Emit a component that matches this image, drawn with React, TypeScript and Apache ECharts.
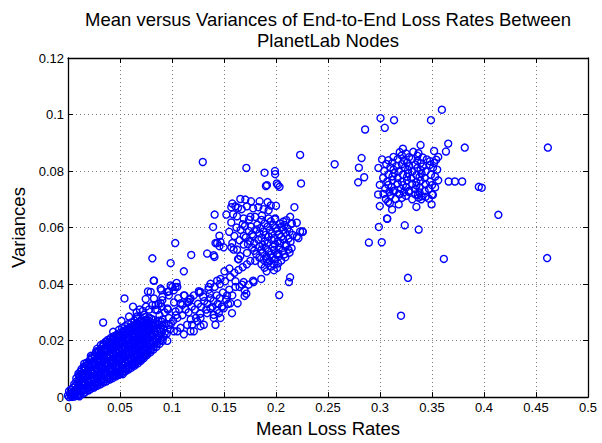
import React, { useEffect, useRef } from "react";
import * as echarts from "echarts";

const titleLines = ["Mean versus Variances of End-to-End Loss Rates Between", "PlanetLab Nodes"];
const xName = "Mean Loss Rates";
const yName = "Variances";
const xRange = { min: 0, max: 0.5, interval: 0.05 };
const yRange = { min: 0, max: 0.12, interval: 0.02 };

// dense blob of pairs near the origin [mean, variance]
const originBlob: [number, number][] = [
  [0.001,0.0000],[0.002,0.0011],[0.001,0.0021],[0.000,0.0006],
  [0.003,0.0004],[0.004,0.0015],[0.003,0.0027],[0.004,0.0001],
  [0.005,0.0008],[0.006,0.0019],[0.005,0.0033],[0.006,0.0046],[0.006,0.0002],
  [0.007,0.0011],[0.008,0.0024],[0.007,0.0040],[0.008,0.0055],[0.008,0.0067],[0.009,0.0005],
  [0.010,0.0016],[0.009,0.0031],[0.010,0.0044],[0.010,0.0058],[0.011,0.0072],[0.010,0.0083],[0.011,0.0003],
  [0.012,0.0009],[0.013,0.0022],[0.012,0.0036],[0.013,0.0049],[0.012,0.0063],[0.013,0.0077],[0.012,0.0090],[0.013,0.0099],
  [0.015,0.0013],[0.014,0.0027],[0.015,0.0040],[0.015,0.0054],[0.014,0.0068],[0.015,0.0081],[0.016,0.0094],[0.015,0.0107],
  [0.017,0.0019],[0.018,0.0032],[0.017,0.0046],[0.018,0.0059],[0.017,0.0072],[0.018,0.0086],[0.017,0.0100],[0.018,0.0113],[0.018,0.0122],
  [0.020,0.0024],[0.019,0.0038],[0.020,0.0051],[0.021,0.0064],[0.020,0.0078],[0.019,0.0091],[0.021,0.0104],[0.020,0.0118],[0.021,0.0131],
  [0.022,0.0029],[0.023,0.0043],[0.022,0.0056],[0.023,0.0070],[0.024,0.0083],[0.022,0.0096],[0.023,0.0110],[0.024,0.0123],[0.023,0.0137],[0.022,0.0146],
  [0.025,0.0034],[0.026,0.0048],[0.025,0.0062],[0.026,0.0075],[0.025,0.0089],[0.027,0.0102],[0.026,0.0115],[0.025,0.0129],[0.026,0.0142],[0.027,0.0156],
  [0.028,0.0040],[0.029,0.0053],[0.028,0.0067],[0.029,0.0080],[0.028,0.0094],[0.030,0.0107],[0.029,0.0121],[0.028,0.0134],[0.030,0.0148],[0.029,0.0161],[0.028,0.0171],
  [0.031,0.0045],[0.032,0.0059],[0.031,0.0072],[0.032,0.0086],[0.033,0.0099],[0.031,0.0113],[0.032,0.0126],[0.033,0.0140],[0.031,0.0153],[0.032,0.0167],[0.033,0.0179],
  [0.034,0.0051],[0.035,0.0064],[0.034,0.0078],[0.035,0.0091],[0.034,0.0105],[0.036,0.0118],[0.035,0.0132],[0.034,0.0145],[0.036,0.0159],[0.035,0.0172],[0.034,0.0186],[0.036,0.0195],
  [0.037,0.0056],[0.038,0.0070],[0.037,0.0083],[0.039,0.0097],[0.038,0.0110],[0.037,0.0124],[0.038,0.0137],[0.039,0.0151],[0.037,0.0164],[0.038,0.0178],[0.039,0.0191],[0.038,0.0202],
  [0.040,0.0062],[0.041,0.0075],[0.040,0.0089],[0.041,0.0102],[0.042,0.0116],[0.040,0.0129],[0.041,0.0143],[0.042,0.0156],[0.041,0.0170],[0.040,0.0183],[0.042,0.0197],[0.041,0.0209],
  [0.043,0.0067],[0.044,0.0081],[0.043,0.0094],[0.045,0.0108],[0.044,0.0121],[0.043,0.0135],[0.044,0.0148],[0.045,0.0162],[0.043,0.0175],[0.044,0.0189],[0.045,0.0202],[0.044,0.0215],
  [0.046,0.0073],[0.047,0.0086],[0.046,0.0100],[0.047,0.0113],[0.048,0.0127],[0.046,0.0140],[0.047,0.0154],[0.048,0.0167],[0.047,0.0181],[0.046,0.0194],[0.048,0.0208],[0.047,0.0221],
  [0.049,0.0079],[0.050,0.0092],[0.049,0.0105],[0.051,0.0119],[0.050,0.0132],[0.049,0.0146],[0.050,0.0159],[0.051,0.0173],[0.049,0.0186],[0.050,0.0200],[0.051,0.0213],[0.050,0.0227],[0.049,0.0238],
  [0.052,0.0085],[0.053,0.0098],[0.052,0.0112],[0.054,0.0125],[0.053,0.0139],[0.052,0.0152],[0.053,0.0166],[0.054,0.0179],[0.052,0.0193],[0.053,0.0206],[0.054,0.0220],[0.053,0.0233],[0.052,0.0244],
  [0.055,0.0091],[0.056,0.0104],[0.055,0.0118],[0.057,0.0131],[0.056,0.0145],[0.055,0.0158],[0.056,0.0172],[0.057,0.0185],[0.055,0.0199],[0.056,0.0212],[0.057,0.0226],[0.056,0.0239],[0.055,0.0251],
  [0.058,0.0097],[0.059,0.0111],[0.058,0.0124],[0.060,0.0138],[0.059,0.0151],[0.058,0.0165],[0.059,0.0178],[0.060,0.0192],[0.058,0.0205],[0.059,0.0219],[0.060,0.0232],[0.059,0.0246],[0.058,0.0258],
  [0.061,0.0104],[0.062,0.0117],[0.061,0.0131],[0.063,0.0144],[0.062,0.0158],[0.061,0.0171],[0.062,0.0185],[0.063,0.0198],[0.061,0.0212],[0.062,0.0225],[0.063,0.0239],[0.062,0.0252],[0.061,0.0264],
  [0.064,0.0111],[0.065,0.0124],[0.064,0.0138],[0.066,0.0151],[0.065,0.0165],[0.064,0.0178],[0.065,0.0192],[0.066,0.0205],[0.064,0.0219],[0.065,0.0232],[0.066,0.0246],[0.065,0.0259],[0.064,0.0271],
  [0.067,0.0119],[0.068,0.0132],[0.067,0.0146],[0.069,0.0159],[0.068,0.0173],[0.067,0.0186],[0.068,0.0200],[0.069,0.0213],[0.067,0.0227],[0.068,0.0240],[0.069,0.0254],[0.068,0.0267],[0.067,0.0279],
  [0.070,0.0128],[0.071,0.0141],[0.070,0.0155],[0.072,0.0168],[0.071,0.0182],[0.070,0.0195],[0.071,0.0209],[0.072,0.0222],[0.070,0.0236],[0.071,0.0249],[0.072,0.0263],[0.071,0.0276],
  [0.073,0.0138],[0.074,0.0151],[0.073,0.0165],[0.075,0.0178],[0.074,0.0192],[0.073,0.0205],[0.074,0.0219],[0.075,0.0232],[0.073,0.0246],[0.074,0.0259],[0.075,0.0273],[0.074,0.0283],
  [0.076,0.0149],[0.077,0.0162],[0.076,0.0176],[0.078,0.0189],[0.077,0.0203],[0.076,0.0216],[0.077,0.0230],[0.078,0.0243],[0.076,0.0257],[0.077,0.0270],[0.078,0.0281],
  [0.079,0.0158],[0.080,0.0171],[0.079,0.0185],[0.081,0.0198],[0.080,0.0212],[0.079,0.0225],[0.080,0.0239],[0.081,0.0252],[0.079,0.0266],[0.080,0.0277],
  [0.082,0.0168],[0.083,0.0181],[0.082,0.0195],[0.084,0.0208],[0.083,0.0222],[0.082,0.0235],[0.083,0.0249],[0.084,0.0262],[0.082,0.0274],
  [0.085,0.0178],[0.086,0.0191],[0.085,0.0205],[0.087,0.0218],[0.086,0.0232],[0.085,0.0245],[0.086,0.0259],[0.087,0.0270],
  [0.088,0.0188],[0.089,0.0202],[0.088,0.0215],[0.090,0.0229],[0.089,0.0242],[0.088,0.0256],[0.090,0.0267],
  [0.091,0.0199],[0.092,0.0213],[0.093,0.0227],[0.092,0.0241],[0.091,0.0255],
];

// extra pairs filling the solid core of the blob
const blobCore: [number, number][] = [
  [0.0105,0.0023],[0.0108,0.0051],[0.0103,0.0076],
  [0.0135,0.0030],[0.0138,0.0055],[0.0133,0.0084],
  [0.0166,0.0026],[0.0163,0.0053],[0.0168,0.0078],[0.0164,0.0106],
  [0.0196,0.0031],[0.0193,0.0059],[0.0198,0.0084],[0.0195,0.0112],
  [0.0226,0.0037],[0.0223,0.0062],[0.0228,0.0091],[0.0224,0.0116],[0.0227,0.0141],
  [0.0256,0.0041],[0.0253,0.0069],[0.0258,0.0094],[0.0254,0.0123],[0.0257,0.0148],
  [0.0286,0.0047],[0.0283,0.0073],[0.0288,0.0102],[0.0284,0.0127],[0.0287,0.0156],
  [0.0316,0.0053],[0.0313,0.0079],[0.0318,0.0105],[0.0314,0.0134],[0.0317,0.0160],[0.0315,0.0184],
  [0.0346,0.0057],[0.0343,0.0086],[0.0348,0.0111],[0.0344,0.0139],[0.0347,0.0167],[0.0345,0.0189],
  [0.0376,0.0064],[0.0373,0.0090],[0.0378,0.0118],[0.0374,0.0143],[0.0377,0.0172],[0.0375,0.0196],
  [0.0406,0.0068],[0.0403,0.0097],[0.0408,0.0122],[0.0404,0.0151],[0.0407,0.0176],[0.0405,0.0204],
  [0.0436,0.0075],[0.0433,0.0100],[0.0438,0.0129],[0.0434,0.0154],[0.0437,0.0183],[0.0435,0.0207],
  [0.0466,0.0079],[0.0463,0.0108],[0.0468,0.0133],[0.0464,0.0162],[0.0467,0.0187],[0.0465,0.0215],
  [0.0496,0.0087],[0.0493,0.0112],[0.0498,0.0141],[0.0494,0.0166],[0.0497,0.0195],[0.0495,0.0219],
  [0.0526,0.0091],[0.0523,0.0120],[0.0528,0.0145],[0.0524,0.0174],[0.0527,0.0199],[0.0525,0.0228],
  [0.0556,0.0099],[0.0553,0.0124],[0.0558,0.0153],[0.0554,0.0178],[0.0557,0.0207],[0.0555,0.0232],
  [0.0586,0.0103],[0.0583,0.0132],[0.0588,0.0157],[0.0584,0.0186],[0.0587,0.0211],[0.0585,0.0240],
  [0.0616,0.0112],[0.0613,0.0137],[0.0618,0.0166],[0.0614,0.0191],[0.0617,0.0220],[0.0615,0.0244],
  [0.0646,0.0117],[0.0643,0.0146],[0.0648,0.0171],[0.0644,0.0200],[0.0647,0.0225],[0.0645,0.0253],
  [0.0676,0.0127],[0.0673,0.0152],[0.0678,0.0181],[0.0674,0.0206],[0.0677,0.0235],[0.0675,0.0259],
  [0.0706,0.0134],[0.0703,0.0163],[0.0708,0.0188],[0.0704,0.0217],[0.0707,0.0242],[0.0705,0.0269],
  [0.0736,0.0146],[0.0733,0.0171],[0.0738,0.0200],[0.0734,0.0225],[0.0737,0.0254],
  [0.0766,0.0155],[0.0763,0.0184],[0.0768,0.0209],[0.0764,0.0238],[0.0767,0.0262],
  [0.0796,0.0166],[0.0793,0.0191],[0.0798,0.0220],[0.0794,0.0245],
];

// the band that climbs from the blob toward the middle cluster
const lossBand: [number, number][] = [
  [0.0338,0.0264],[0.0271,0.0162],[0.0156,0.0118],[0.0434,0.0231],[0.0514,0.0270],[0.0587,0.0285],[0.0661,0.0285],[0.0731,0.0291],
  [0.0527,0.0081],[0.0675,0.0134],[0.0955,0.0199],
  [0.0543,0.0349],[0.0625,0.0320],[0.0747,0.0347],[0.0795,0.0372],[0.0891,0.0384],[0.0827,0.0349],[0.0907,0.0355],[0.0955,0.0372],
  [0.1018,0.0378],[0.1034,0.0390],[0.0987,0.0395],[0.0891,0.0332],[0.0955,0.0314],[0.1034,0.0303],[0.1051,0.0280],[0.1099,0.0326],
  [0.1146,0.0337],[0.1082,0.0245],[0.1146,0.0256],[0.1194,0.0256],[0.1242,0.0268],[0.1274,0.0280],[0.1338,0.0297],[0.1370,0.0314],
  [0.1401,0.0291],[0.1450,0.0297],[0.1306,0.0256],[0.1210,0.0233],[0.1114,0.0222],[0.1051,0.0233],
  [0.0824,0.0412],[0.0897,0.0378],[0.0970,0.0374],[0.1044,0.0404],[0.0769,0.0374],
  [0.066,0.030],[0.069,0.031],[0.072,0.0305],[0.075,0.032],[0.078,0.031],[0.081,0.0325],[0.084,0.031],[0.087,0.033],[0.090,0.032],
  [0.093,0.030],[0.096,0.031],[0.088,0.029],[0.091,0.0275],[0.094,0.026],[0.097,0.028],[0.099,0.026],[0.095,0.0225],[0.098,0.024],
  [0.101,0.027],[0.104,0.029],[0.107,0.031],[0.110,0.029],[0.113,0.031],[0.116,0.030],[0.119,0.032],[0.122,0.031],[0.125,0.033],
  [0.128,0.032],[0.131,0.034],[0.134,0.033],[0.137,0.035],[0.140,0.034],[0.143,0.036],[0.146,0.035],[0.149,0.037],[0.152,0.0345],
  [0.155,0.038],[0.158,0.036],[0.161,0.039],[0.118,0.0275],[0.123,0.028],[0.127,0.0295],[0.133,0.031],[0.139,0.032],[0.144,0.033],
  [0.148,0.032],[0.154,0.033],[0.102,0.0335],[0.106,0.035],[0.112,0.036],[0.117,0.0345],[0.121,0.036],[0.126,0.037],[0.130,0.0355],
  [0.135,0.038],[0.141,0.039],[0.146,0.040],[0.151,0.041],[0.156,0.0425],[0.160,0.044],[0.164,0.045],[0.168,0.046],[0.172,0.047],
  [0.1466,0.0418],[0.1434,0.0412],[0.1370,0.0401],[0.1353,0.0390],[0.1363,0.0366],[0.1274,0.0372],[0.1258,0.0375],[0.1178,0.0349],
  [0.1162,0.0337],[0.1082,0.0332],[0.1114,0.0360],[0.1051,0.0390],[0.1003,0.0390],[0.0970,0.0360],[0.0907,0.0343],[0.0843,0.0326],[0.0859,0.0308],
  [0.1530,0.0360],[0.1561,0.0332],[0.1497,0.0314],[0.1434,0.0308],[0.1401,0.0280],[0.1418,0.0256],[0.1482,0.0320],[0.1631,0.0332],
  [0.1577,0.0297],[0.1466,0.0280],[0.1274,0.0251],[0.1178,0.0233],[0.1018,0.0233],[0.0970,0.0256],
  [0.1858,0.0418],[0.1785,0.0407],[0.1737,0.0398],[0.1689,0.0407],[0.1673,0.0398],[0.1650,0.0390],[0.1698,0.0378],[0.1715,0.0366],
  [0.1698,0.0358],[0.2136,0.0424],[0.2124,0.0407],[0.2031,0.0361],[0.1610,0.0410],[0.1780,0.0412],[0.1552,0.0455],[0.1504,0.0445],
  [0.1031,0.0545],[0.1185,0.0503],[0.0811,0.0491],[0.0987,0.0474],[0.1114,0.0445],[0.0827,0.0412],
];

// the middle cluster around (0.19, 0.055)
const midCluster: [number, number][] = [
  [0.186,0.0627],[0.195,0.0622],[0.199,0.0629],[0.207,0.0621],[0.210,0.0626],
  [0.182,0.0610],[0.189,0.0615],[0.197,0.0608],[0.204,0.0614],[0.208,0.0609],[0.215,0.0613],
  [0.176,0.0603],[0.185,0.0598],[0.192,0.0604],[0.200,0.0599],[0.205,0.0602],[0.211,0.0597],
  [0.174,0.0588],[0.181,0.0593],[0.188,0.0586],[0.194,0.0591],[0.201,0.0587],[0.207,0.0592],[0.213,0.0585],
  [0.177,0.0576],[0.184,0.0580],[0.190,0.0574],[0.196,0.0579],[0.203,0.0575],[0.209,0.0581],[0.216,0.0574],
  [0.171,0.0565],[0.178,0.0569],[0.186,0.0563],[0.193,0.0568],[0.198,0.0562],[0.205,0.0567],[0.212,0.0561],
  [0.175,0.0553],[0.183,0.0557],[0.189,0.0551],[0.196,0.0556],[0.202,0.0552],[0.207,0.0558],[0.214,0.0550],
  [0.173,0.0541],[0.179,0.0545],[0.187,0.0539],[0.192,0.0544],[0.199,0.0540],[0.204,0.0546],[0.210,0.0539],
  [0.177,0.0529],[0.184,0.0533],[0.190,0.0527],[0.197,0.0532],[0.203,0.0528],[0.209,0.0534],[0.215,0.0527],
  [0.179,0.0518],[0.186,0.0522],[0.193,0.0516],[0.198,0.0521],[0.206,0.0517],[0.212,0.0522],
  [0.181,0.0506],[0.187,0.0510],[0.195,0.0504],[0.202,0.0509],[0.208,0.0505],[0.213,0.0511],
  [0.184,0.0494],[0.191,0.0498],[0.196,0.0493],[0.203,0.0499],[0.209,0.0495],
  [0.180,0.0482],[0.188,0.0486],[0.194,0.0481],[0.199,0.0487],[0.205,0.0483],
  [0.186,0.0470],[0.192,0.0474],[0.198,0.0469],[0.202,0.0473],
  [0.189,0.0458],[0.195,0.0462],[0.201,0.0457],[0.191,0.0445],[0.198,0.0449],
  [0.158,0.0685],[0.167,0.0665],[0.172,0.0675],[0.178,0.0668],[0.183,0.0672],[0.188,0.0665],[0.195,0.0678],[0.168,0.0612],
  [0.174,0.0628],[0.157,0.0618],[0.162,0.0600],[0.166,0.0592],[0.170,0.0605],[0.155,0.0585],[0.160,0.0570],[0.165,0.0555],
  [0.169,0.0540],[0.158,0.0545],
  [0.1410,0.0646],[0.1395,0.0602],[0.1456,0.0571],[0.1338,0.0508],[0.1401,0.0502],[0.1408,0.0496],[0.1418,0.0545],[0.1456,0.0534],
  [0.1497,0.0530],[0.1434,0.0545],[0.1466,0.0549],[0.1571,0.0530],[0.1593,0.0522],[0.1641,0.0488],[0.1690,0.0570],[0.1626,0.0522],
  [0.1657,0.0499],[0.1721,0.0510],[0.1753,0.0482],[0.1635,0.0488],
  [0.1657,0.0701],[0.1705,0.0699],[0.1760,0.0693],[0.1842,0.0693],[0.1919,0.0690],[0.2000,0.0677],[0.1609,0.0675],[0.1570,0.0672],
  [0.1635,0.0670],[0.1587,0.0647],[0.1523,0.0646],[0.1625,0.0640],[0.1689,0.0632],[0.1753,0.0638],[0.1800,0.0638],[0.1865,0.0643],
  [0.1929,0.0661],[0.1929,0.0632],[0.1992,0.0632],
  [0.2177,0.0672],[0.2136,0.0638],[0.2152,0.0615],[0.2200,0.0617],[0.2232,0.0586],[0.2258,0.0585],[0.2216,0.0563],[0.2200,0.0568],
  [0.2254,0.0586],[0.2008,0.0505],[0.1913,0.0488],
  [0.1296,0.0832],[0.2232,0.0857],[0.1715,0.0811],[0.1890,0.0794],[0.1990,0.0800],[0.1992,0.0789],[0.1913,0.0750],[0.1903,0.0747],
  [0.2008,0.0756],[0.2034,0.0744],[0.2018,0.0750],[0.2241,0.0756],
];

// the far cluster around (0.33, 0.078)
const farCluster: [number, number][] = [
  [0.319,0.0867],[0.325,0.0862],[0.332,0.0868],[0.337,0.0863],
  [0.313,0.0850],[0.321,0.0855],[0.328,0.0849],[0.336,0.0854],[0.341,0.0848],
  [0.308,0.0838],[0.317,0.0842],[0.323,0.0837],[0.331,0.0843],[0.336,0.0836],[0.345,0.0841],[0.348,0.0835],
  [0.306,0.0825],[0.312,0.0829],[0.321,0.0824],[0.326,0.0830],[0.334,0.0823],[0.339,0.0828],[0.348,0.0822],[0.352,0.0829],
  [0.310,0.0813],[0.316,0.0818],[0.324,0.0812],[0.328,0.0817],[0.336,0.0811],[0.341,0.0816],[0.351,0.0812],
  [0.304,0.0800],[0.313,0.0805],[0.318,0.0799],[0.327,0.0804],[0.331,0.0798],[0.339,0.0804],[0.344,0.0799],[0.355,0.0805],
  [0.308,0.0788],[0.314,0.0793],[0.322,0.0787],[0.327,0.0792],[0.335,0.0786],[0.340,0.0791],[0.349,0.0787],
  [0.303,0.0776],[0.312,0.0781],[0.317,0.0775],[0.326,0.0780],[0.330,0.0774],[0.338,0.0779],[0.343,0.0775],[0.353,0.0780],
  [0.307,0.0763],[0.312,0.0768],[0.321,0.0762],[0.326,0.0767],[0.335,0.0761],[0.339,0.0766],[0.348,0.0762],[0.356,0.0767],
  [0.308,0.0751],[0.317,0.0756],[0.322,0.0750],[0.331,0.0755],[0.335,0.0749],[0.344,0.0754],[0.350,0.0750],
  [0.305,0.0738],[0.311,0.0743],[0.320,0.0737],[0.325,0.0742],[0.334,0.0736],[0.338,0.0741],[0.347,0.0737],[0.353,0.0742],
  [0.309,0.0726],[0.314,0.0731],[0.323,0.0725],[0.328,0.0730],[0.338,0.0724],[0.343,0.0729],
  [0.310,0.0713],[0.319,0.0718],[0.325,0.0712],[0.334,0.0717],[0.340,0.0711],[0.350,0.0716],
  [0.315,0.0701],[0.321,0.0705],[0.331,0.0700],[0.337,0.0706],[0.347,0.0702],
];

// scattered pairs around the far cluster
const farOutliers: [number, number][] = [
  [0.3595,0.1017],[0.3005,0.0987],[0.3135,0.0980],[0.3490,0.0980],[0.3046,0.0953],[0.2857,0.0947],[0.3220,0.0879],[0.3390,0.0892],
  [0.3656,0.0897],[0.3815,0.0883],[0.3634,0.0869],[0.3520,0.0871],[0.2823,0.0846],[0.2797,0.0812],[0.3020,0.0841],[0.2985,0.0811],
  [0.2848,0.0778],[0.2790,0.0760],[0.3660,0.0763],[0.3720,0.0763],[0.3790,0.0763],[0.3560,0.0850],[0.3540,0.0840],[0.2564,0.0824],
  [0.3950,0.0744],[0.2998,0.0676],[0.3116,0.0664],[0.3180,0.0682],[0.3350,0.0673],[0.3496,0.0682],[0.3070,0.0631],[0.2989,0.0602],
  [0.3238,0.0608],[0.3372,0.0593],[0.2893,0.0547],[0.3017,0.0548],[0.3614,0.0489],[0.3269,0.0422],[0.3202,0.0288],
  [0.3033,0.0719],[0.2982,0.0717],[0.3056,0.0701],[0.3078,0.0691],[0.3127,0.0728],[0.3183,0.0719],[0.3276,0.0726],[0.3365,0.0716],
  [0.3439,0.0709],[0.3397,0.0700],[0.3509,0.0716],[0.2998,0.0751],[0.3094,0.0686],[0.3068,0.0632],
  [0.4614,0.0883],[0.3978,0.0741],[0.4138,0.0645],[0.4607,0.0492],
];

const FONT = "'Liberation Sans', Arial, Helvetica, sans-serif";

export default function App() {
  const ref = useRef<HTMLDivElement>(null);
  useEffect(() => {
    if (!ref.current) return;
    const chart = echarts.init(ref.current, null, { renderer: "svg" });
    const allPoints = [...originBlob, ...blobCore, ...lossBand, ...midCluster, ...farCluster, ...farOutliers];
    const axisCommon = {
      type: "value" as const,
      axisLine: { show: true, onZero: false, lineStyle: { color: "#000", width: 1.3 } },
      axisTick: { show: true, inside: true, length: 5, lineStyle: { color: "#000", width: 1 } },
    };
    const gridLine = { show: true, lineStyle: { color: "#7a7a7a", type: [1, 3], width: 1 } };
    chart.setOption({
      animation: false,
      backgroundColor: "#fff",
      textStyle: { fontFamily: FONT },
      grid: { left: 68, right: 14, top: 58, bottom: 38, containLabel: false },
      graphic: [
        { type: "text", x: 328, y: 19, style: { text: titleLines[0], fontSize: 18.5, fontFamily: FONT, fill: "#000", align: "center", verticalAlign: "middle" } },
        { type: "text", x: 328, y: 40, style: { text: titleLines[1], fontSize: 18.5, fontFamily: FONT, fill: "#000", align: "center", verticalAlign: "middle" } },
      ],
      xAxis: [
        {
          ...axisCommon,
          position: "bottom",
          ...xRange,
          name: xName,
          nameLocation: "middle",
          nameGap: 18,
          nameTextStyle: { fontSize: 18.5, color: "#000", fontFamily: FONT },
          axisLabel: { fontSize: 13, color: "#000", margin: 4, fontFamily: FONT },
          splitLine: gridLine,
        },
        {
          ...axisCommon,
          position: "top",
          ...xRange,
          axisLabel: { show: false },
          splitLine: { show: false },
        },
      ],
      yAxis: [
        {
          ...axisCommon,
          position: "left",
          ...yRange,
          name: yName,
          nameLocation: "middle",
          nameGap: 31,
          nameTextStyle: { fontSize: 18.5, color: "#000", fontFamily: FONT },
          axisLabel: { fontSize: 13, color: "#000", margin: 4, fontFamily: FONT },
          splitLine: gridLine,
        },
        {
          ...axisCommon,
          position: "right",
          ...yRange,
          axisLabel: { show: false },
          splitLine: { show: false },
        },
      ],
      series: [
        {
          type: "scatter",
          xAxisIndex: 0,
          yAxisIndex: 0,
          data: allPoints,
          symbol: "circle",
          symbolSize: 7,
          silent: true,
          large: false,
          progressive: 0,
          itemStyle: { color: "rgba(0,0,0,0)", borderColor: "#0000ff", borderWidth: 1.4, opacity: 1 },
        },
      ],
    });
    return () => chart.dispose();
  }, []);
  return <div ref={ref} style={{ position: "fixed", left: 0, top: 0, width: 602, height: 443 }} />;
}
